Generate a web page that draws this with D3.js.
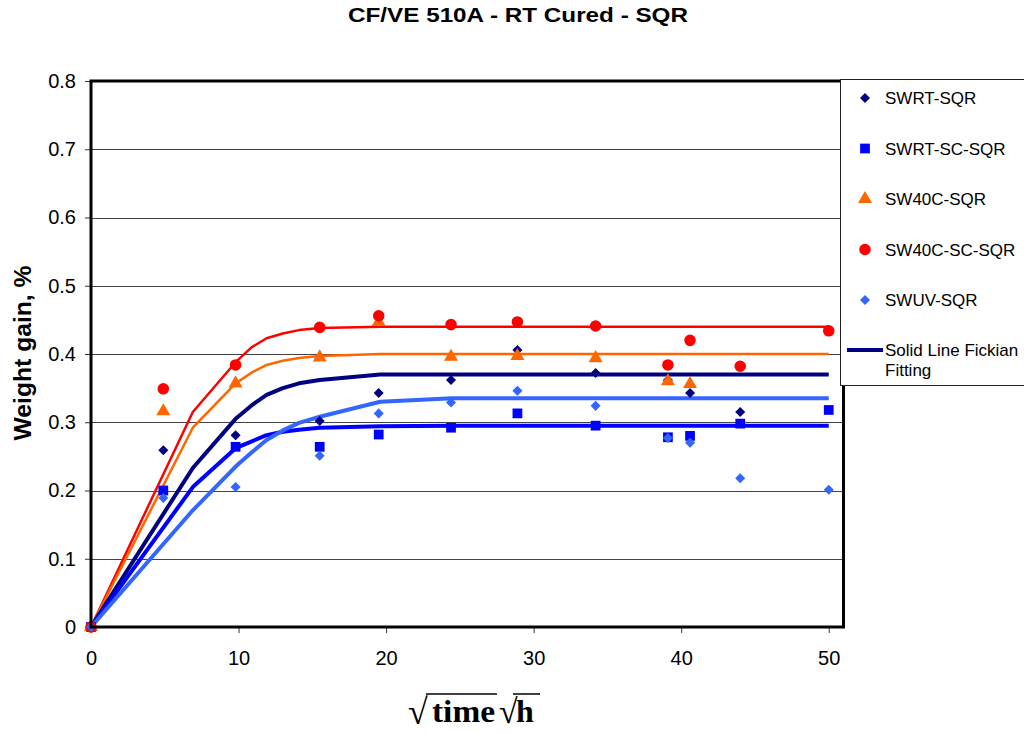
<!DOCTYPE html>
<html>
<head>
<meta charset="utf-8">
<script src="https://cdn.jsdelivr.net/npm/d3@7.9.0/dist/d3.min.js"></script>
<style>
  body { margin: 0; background: #fff; }
  svg { display: block; font-family: "Liberation Sans", Arial, sans-serif; }
</style>
</head>
<body>
<svg id="chart" width="1024" height="733"></svg>
<script>
// Data
const sampleX = [0, 4.9, 9.8, 15.5, 19.5, 24.4, 28.9, 34.2, 39.1, 40.6, 44.0, 50.0];

const swrt     = [0, 0.259, 0.281, 0.302, 0.343, 0.362, 0.406, 0.372, 0.362, 0.343, 0.315, null];
const swrtSc   = [0, 0.200, 0.264, 0.264, 0.282, 0.292, 0.313, 0.295, 0.278, 0.280, 0.298, 0.318];
const sw40c    = [0, 0.316, 0.357, 0.395, 0.447, 0.396, 0.397, 0.394, 0.360, 0.356, null, null];
const sw40cSc  = [0, 0.349, 0.384, 0.439, 0.456, 0.443, 0.447, 0.441, 0.384, 0.420, 0.382, 0.434];
const swuv     = [0, 0.189, 0.205, 0.251, 0.313, 0.329, 0.346, 0.324, 0.277, 0.270, 0.218, 0.201];

// Fickian fitting curves
const fitX = [0, 6.9, 9.8, 10.9, 11.9, 13.0, 14.1, 15.5, 19.6, 24.5, 50];
const fitSwrt    = [0, 0.233, 0.305, 0.325, 0.340, 0.350, 0.357, 0.362, 0.370, 0.370, 0.370];
const fitSwrtSc  = [0, 0.205, 0.262, 0.272, 0.281, 0.286, 0.289, 0.292, 0.294, 0.295, 0.295];
const fitSw40c   = [0, 0.292, 0.357, 0.373, 0.384, 0.390, 0.394, 0.397, 0.400, 0.400, 0.400];
const fitSw40cSc = [0, 0.315, 0.388, 0.410, 0.423, 0.430, 0.435, 0.438, 0.440, 0.440, 0.440];
const fitSwuv    = [0, 0.171, 0.235, 0.256, 0.274, 0.288, 0.299, 0.308, 0.330, 0.335, 0.335];

const xTicks = [0, 10, 20, 30, 40, 50];
const yTicks = [0, 0.1, 0.2, 0.3, 0.4, 0.5, 0.6, 0.7, 0.8];

const series = [
  { name: "SWRT-SQR",     values: swrt,    color: "#000080", symbol: d3.symbolDiamond2, size: 64 },
  { name: "SWRT-SC-SQR",  values: swrtSc,  color: "#0000FF", symbol: d3.symbolSquare,  size: 95 },
  { name: "SW40C-SQR",    values: sw40c,   color: "#FF6600", symbol: d3.symbolTriangle, size: 85 },
  { name: "SW40C-SC-SQR", values: sw40cSc, color: "#FF0000", symbol: d3.symbolCircle,  size: 105 },
  { name: "SWUV-SQR",     values: swuv,    color: "#3366FF", symbol: d3.symbolDiamond2, size: 64 }
];

const fits = [
  { values: fitSw40cSc, color: "#FF0000", width: 2.5 },
  { values: fitSw40c,   color: "#FF6600", width: 2.5 },
  { values: fitSwrt,    color: "#000080", width: 4 },
  { values: fitSwrtSc,  color: "#0000FF", width: 4 },
  { values: fitSwuv,    color: "#3366FF", width: 4 }
];

const svg = d3.select("#chart");

const x = d3.scaleLinear().domain([0, 51]).range([91, 843.5]);
const y = d3.scaleLinear().domain([0, 0.8]).range([627, 81]);

// Title
svg.append("text")
  .attr("x", 518).attr("y", 22)
  .attr("text-anchor", "middle")
  .attr("font-size", 21).attr("font-weight", "bold")
  .attr("textLength", 340).attr("lengthAdjust", "spacingAndGlyphs")
  .text("CF/VE 510A - RT Cured - SQR");

// Gridlines
svg.append("g")
  .selectAll("line")
  .data(yTicks.slice(1, -1))
  .join("line")
  .attr("x1", x(0)).attr("x2", x(51))
  .attr("y1", d => Math.round(y(d)) + 0.5).attr("y2", d => Math.round(y(d)) + 0.5)
  .attr("stroke", "#444").attr("stroke-width", 1);

// Axes
const yAxis = d3.axisLeft(y).tickValues(yTicks).tickSize(6).tickPadding(9)
  .tickFormat(d => d === 0 ? "0" : d3.format(".1f")(d));
const gy = svg.append("g").attr("transform", `translate(${x(0)},0)`).call(yAxis);
gy.select(".domain").remove();
gy.selectAll("line").attr("stroke", "#333");
gy.selectAll("text").attr("font-size", 20).attr("fill", "#000")
  .attr("font-family", "'Liberation Sans', Arial, sans-serif");

const xAxis = d3.axisBottom(x).tickValues(xTicks).tickSize(6).tickPadding(18)
  .tickFormat(d3.format("d"));
const gx = svg.append("g").attr("transform", `translate(0,${y(0)})`).call(xAxis);
gx.select(".domain").remove();
gx.selectAll("line").attr("stroke", "#333");
gx.selectAll("text").attr("font-size", 20).attr("fill", "#000")
  .attr("font-family", "'Liberation Sans', Arial, sans-serif");

// Fit lines
const line = d3.line()
  .x((d, i) => x(fitX[i]))
  .y(d => y(d));

svg.append("g")
  .selectAll("path")
  .data(fits)
  .join("path")
  .attr("d", d => line(d.values))
  .attr("fill", "none")
  .attr("stroke", d => d.color)
  .attr("stroke-width", d => d.width)
  .attr("stroke-linejoin", "round");

// Markers
series.forEach(s => {
  const pts = s.values.map((v, i) => ({ x: sampleX[i], y: v })).filter(p => p.y !== null);
  svg.append("g")
    .selectAll("path")
    .data(pts)
    .join("path")
    .attr("d", d3.symbol().type(s.symbol).size(s.size))
    .attr("transform", d => `translate(${x(d.x)},${y(d.y)})`)
    .attr("fill", s.color);
});

// Plot frame
svg.append("rect")
  .attr("x", x(0)).attr("y", y(0.8))
  .attr("width", x(51) - x(0)).attr("height", y(0) - y(0.8))
  .attr("fill", "none").attr("stroke", "#000").attr("stroke-width", 3);

// Y axis label
svg.append("text")
  .attr("transform", "translate(31,353) rotate(-90)")
  .attr("text-anchor", "middle")
  .attr("font-size", 23).attr("font-weight", "bold")
  .attr("textLength", 175).attr("lengthAdjust", "spacingAndGlyphs")
  .text("Weight gain, %");

// X axis label: sqrt(time) sqrt(h)
const xl = svg.append("g").attr("font-family", "'Liberation Serif', 'Times New Roman', serif")
  .attr("font-weight", "bold").attr("font-size", 32);
xl.append("text").attr("x", 408).attr("y", 724).attr("font-size", 36)
  .attr("font-weight", "normal").text("\u221A");
xl.append("text").attr("x", 432).attr("y", 722)
  .attr("textLength", 63).attr("lengthAdjust", "spacingAndGlyphs").text("time");
xl.append("line").attr("x1", 426).attr("x2", 497).attr("y1", 694).attr("y2", 694)
  .attr("stroke", "#000").attr("stroke-width", 1.5);
xl.append("text").attr("x", 499).attr("y", 723).attr("font-size", 34)
  .attr("font-weight", "normal").text("\u221A");
xl.append("text").attr("x", 516).attr("y", 722).text("h");
xl.append("line").attr("x1", 513).attr("x2", 540).attr("y1", 694).attr("y2", 694)
  .attr("stroke", "#000").attr("stroke-width", 1.5);

// Legend
const legend = svg.append("g");
legend.append("rect")
  .attr("x", 840.5).attr("y", 79.5).attr("width", 190).attr("height", 306)
  .attr("fill", "#fff").attr("stroke", "#222").attr("stroke-width", 1);

const legendY = d3.scalePoint().domain(series.map(s => s.name)).range([98, 300]);
series.forEach(s => {
  legend.append("path")
    .attr("d", d3.symbol().type(s.symbol).size(s.size))
    .attr("transform", `translate(865,${legendY(s.name)})`)
    .attr("fill", s.color);
  legend.append("text")
    .attr("x", 885).attr("y", legendY(s.name) + 6)
    .attr("font-size", 17)
    .text(s.name);
});
legend.append("line")
  .attr("x1", 847).attr("x2", 883).attr("y1", 350).attr("y2", 350)
  .attr("stroke", "#000080").attr("stroke-width", 4);
legend.append("text").attr("x", 885).attr("y", 356).attr("font-size", 17).text("Solid Line Fickian");
legend.append("text").attr("x", 885).attr("y", 376).attr("font-size", 17).text("Fitting");
</script>
</body>
</html>
